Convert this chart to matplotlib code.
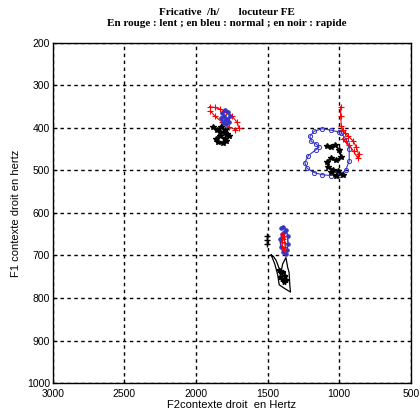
import matplotlib
matplotlib.use('Agg')
import matplotlib.pyplot as plt

# formant trajectories (F2, F1) in Hz, one list per speaking rate and context
# cluster near F2=1800
lent_a_f2 = [1905, 1870, 1830, 1790, 1750, 1715, 1700, 1725, 1770, 1820, 1870, 1900]
lent_a_f1 = [350, 352, 356, 362, 372, 386, 400, 404, 398, 386, 372, 360]
normal_a_f2 = [1820, 1800, 1775, 1765, 1770, 1790, 1810, 1825, 1805, 1785, 1795]
normal_a_f1 = [365, 358, 362, 372, 385, 392, 388, 376, 372, 378, 382]
rapide_a_f2 = [1880, 1855, 1825, 1800, 1785, 1800, 1835, 1860, 1845, 1815, 1790, 1770, 1800, 1830]
rapide_a_f1 = [398, 404, 398, 405, 415, 425, 418, 426, 434, 436, 430, 420, 412, 410]

# cluster near F2=1000
lent_b_f2 = [990, 990, 985, 975, 960, 935, 905, 880, 865, 872, 900, 930, 955, 975]
lent_b_f1 = [350, 372, 395, 405, 412, 420, 430, 445, 462, 470, 455, 440, 432, 425]
normal_b_f2 = [1000, 1060, 1120, 1175, 1205, 1195, 1160, 1140, 1165, 1215, 1240, 1225, 1175, 1120, 1060, 1000, 955, 930, 930, 950, 985]
normal_b_f1 = [410, 405, 402, 408, 420, 432, 438, 445, 452, 465, 482, 495, 505, 510, 512, 510, 500, 478, 450, 428, 412]
rapide_b_f2 = [1085, 1060, 1030, 1000, 985, 1020, 1060, 1085, 1075, 1040, 1005, 970, 1020, 1060]
rapide_b_f1 = [442, 446, 440, 452, 468, 476, 470, 480, 492, 498, 502, 510, 512, 504]

# cluster near F2=1400
lent_c_f2 = [1400, 1392, 1385, 1380, 1378, 1385, 1395, 1402, 1392, 1385]
lent_c_f1 = [650, 656, 662, 670, 680, 688, 682, 668, 660, 654]
normal_c_f2 = [1405, 1390, 1370, 1360, 1358, 1365, 1375, 1392, 1408, 1412, 1398, 1385]
normal_c_f1 = [635, 632, 640, 655, 672, 688, 696, 692, 680, 662, 650, 645]
rapide_c_f2 = [1475, 1450, 1430, 1419, 1380, 1340, 1345, 1350, 1360, 1372, 1395, 1410, 1398, 1385, 1372, 1380, 1400, 1420, 1440, 1460, 1475]
rapide_c_f1 = [699, 720, 745, 769, 778, 786, 770, 740, 728, 705, 720, 745, 760, 765, 752, 740, 735, 730, 712, 702, 699]
rapide_c_core_f2 = [1418, 1405, 1390, 1378, 1372, 1385, 1400, 1412]
rapide_c_core_f1 = [735, 742, 738, 748, 758, 762, 756, 750]
onset_c_f2 = [1503, 1503, 1503]
onset_c_f1 = [655, 663, 672]

x_ticks = [3000, 2500, 2000, 1500, 1000, 500]
y_ticks = [200, 300, 400, 500, 600, 700, 800, 900, 1000]

fig = plt.figure(figsize=(4.2, 4.2), dpi=100)
ax = fig.add_axes([0.126, 0.088, 0.852, 0.81])

blue = '#3535c5'
ax.plot(lent_a_f2, lent_a_f1, color='red', lw=0.8, marker='+', ms=4, mew=0.8)
ax.plot(normal_a_f2, normal_a_f1, color=blue, lw=1.2, marker='o', ms=2.5, mew=0.8)
ax.plot(rapide_a_f2, rapide_a_f1, color='black', lw=1.2, marker='*', ms=4)

ax.plot(normal_b_f2, normal_b_f1, color=blue, lw=0.8, marker='o', ms=3, mew=0.7, mfc='none')
ax.plot(rapide_b_f2, rapide_b_f1, color='black', lw=1.0, marker='*', ms=4)
ax.plot(lent_b_f2, lent_b_f1, color='red', lw=0.8, marker='+', ms=4, mew=0.8)

ax.plot(rapide_c_f2, rapide_c_f1, color='black', lw=0.9)
ax.plot(rapide_c_core_f2, rapide_c_core_f1, color='black', lw=1.2, marker='*', ms=3.5)
ax.plot(onset_c_f2, onset_c_f1, color='black', lw=1.0, marker='+', ms=4, mew=1.0)
ax.plot(normal_c_f2, normal_c_f1, color=blue, lw=1.1, marker='o', ms=2.5, mew=0.7)
ax.plot(lent_c_f2, lent_c_f1, color='red', lw=0.8, marker='+', ms=3, mew=0.8)

ax.set_xlim(3000, 500)
ax.set_ylim(1000, 200)
ax.set_xticks(x_ticks)
ax.set_yticks(y_ticks)
ax.grid(True, color='black', linestyle=(0, (2.5, 2.5)), linewidth=1.0)
ax.tick_params(direction='in', length=3, labelsize=7.5, pad=2)
ax.tick_params(axis='x', pad=4)
for lab in ax.get_xticklabels() + ax.get_yticklabels():
    lab.set_fontfamily('Liberation Sans')
for s in ax.spines.values():
    s.set_linewidth(1.0)

ax.set_xlabel('F2contexte droit  en Hertz', fontsize=8, family='Liberation Sans', labelpad=1)
ax.set_ylabel('F1 contexte droit en hertz', fontsize=8, family='Liberation Sans', labelpad=4)
fig.text(0.54, 0.965, 'Fricative  /h/       locuteur FE', ha='center',
         fontsize=8, family='Liberation Serif', weight='bold')
fig.text(0.54, 0.937, 'En rouge : lent ; en bleu : normal ; en noir : rapide', ha='center',
         fontsize=8, family='Liberation Serif', weight='bold')

fig.savefig('out.png', dpi=100)
